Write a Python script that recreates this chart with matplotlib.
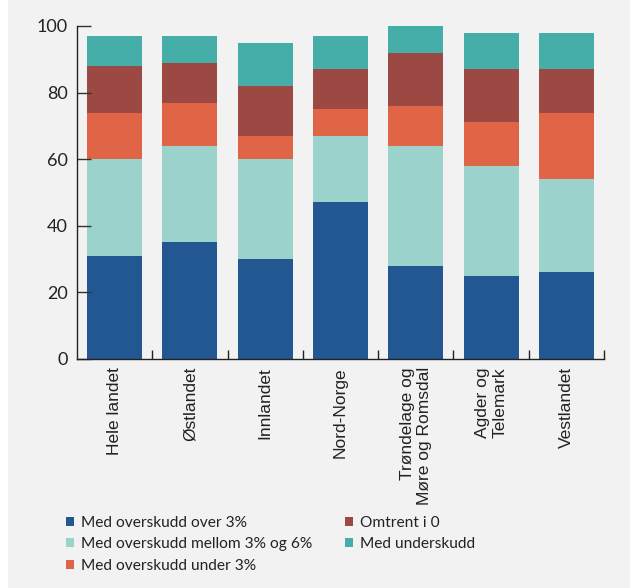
import matplotlib.pyplot as plt
from matplotlib.patches import Patch, Rectangle
import numpy as np

plt.rcParams['font.family'] = ['Lato', 'DejaVu Sans']

regions = ['Hele landet', 'Østlandet', 'Innlandet', 'Nord-Norge',
           'Trøndelage og\nMøre og Romsdal', 'Agder og\nTelemark', 'Vestlandet']

# share of units in each group, per region (percent)
over3 = [31, 35, 30, 47, 28, 25, 26]
mellom3og6 = [29, 29, 30, 20, 36, 33, 28]
under3 = [14, 13, 7, 8, 12, 13, 20]
omtrent0 = [14, 12, 15, 12, 16, 16, 13]
underskudd = [9, 8, 13, 10, 8, 11, 11]

series = [
    ('Med overskudd over 3%', over3, '#235791'),
    ('Med overskudd mellom 3% og 6%', mellom3og6, '#9cd2cc'),
    ('Med overskudd under 3%', under3, '#e06546'),
    ('Omtrent i 0', omtrent0, '#9c4843'),
    ('Med underskudd', underskudd, '#45aea9'),
]

bg = '#f2f2f2'
fig = plt.figure(figsize=(6.3, 5.88), dpi=100, facecolor=bg)
# thin white strip down the left edge
fig.patches.append(Rectangle((0, 0), 8 / 630, 1, transform=fig.transFigure,
                             facecolor='white', edgecolor='none', zorder=-1))

ax = fig.add_axes([77 / 630, 1 - 358.7 / 588, (604 - 77) / 630, (358.7 - 26) / 588])
ax.set_facecolor(bg)

x = np.arange(len(regions))
bottom = np.zeros(len(regions))
for name, vals, col in series:
    ax.bar(x, vals, width=0.73, bottom=bottom, color=col, label=name)
    bottom += np.array(vals)

ax.set_xlim(-0.5, len(regions) - 0.5)
ax.set_ylim(0, 100)
ax.set_yticks([0, 20, 40, 60, 80, 100])
ax.tick_params(axis='y', direction='in', length=10, width=1, color='#333333',
               labelsize=13, labelcolor='#222222', pad=6.5)

ax.set_xticks(x)
ax.set_xticklabels(regions, rotation=90, ha='center', va='top',
                   multialignment='right', fontsize=12.5, color='#222222')
for lbl in ax.get_xticklabels():
    lbl.set_fontfamily(['Liberation Sans', 'DejaVu Sans'])
ax.set_xticks(np.arange(0.5, len(regions)), minor=True)
ax.tick_params(axis='x', which='major', length=0, pad=6)
ax.tick_params(axis='x', which='minor', direction='in', length=6.5, width=1, color='#222222')

for side in ['top', 'right']:
    ax.spines[side].set_visible(False)
for side in ['left', 'bottom']:
    ax.spines[side].set_color('#222222')
    ax.spines[side].set_linewidth(1)

handles = [Patch(facecolor=c, edgecolor='none') for _, _, c in series]
labels = [n for n, _, _ in series]
leg_kw = dict(frameon=False, fontsize=11.2, handlelength=0.52, handleheight=0.52,
              handletextpad=0.45, labelspacing=0.48, borderpad=0, borderaxespad=0,
              loc='upper left', labelcolor='#222222')
fig.legend(handles[:3], labels[:3], bbox_to_anchor=(66 / 630, 1 - 516 / 588), **leg_kw)
fig.legend(handles[3:], labels[3:], bbox_to_anchor=(345 / 630, 1 - 516 / 588), **leg_kw)

fig.savefig('out.png', dpi=100, facecolor=bg)
